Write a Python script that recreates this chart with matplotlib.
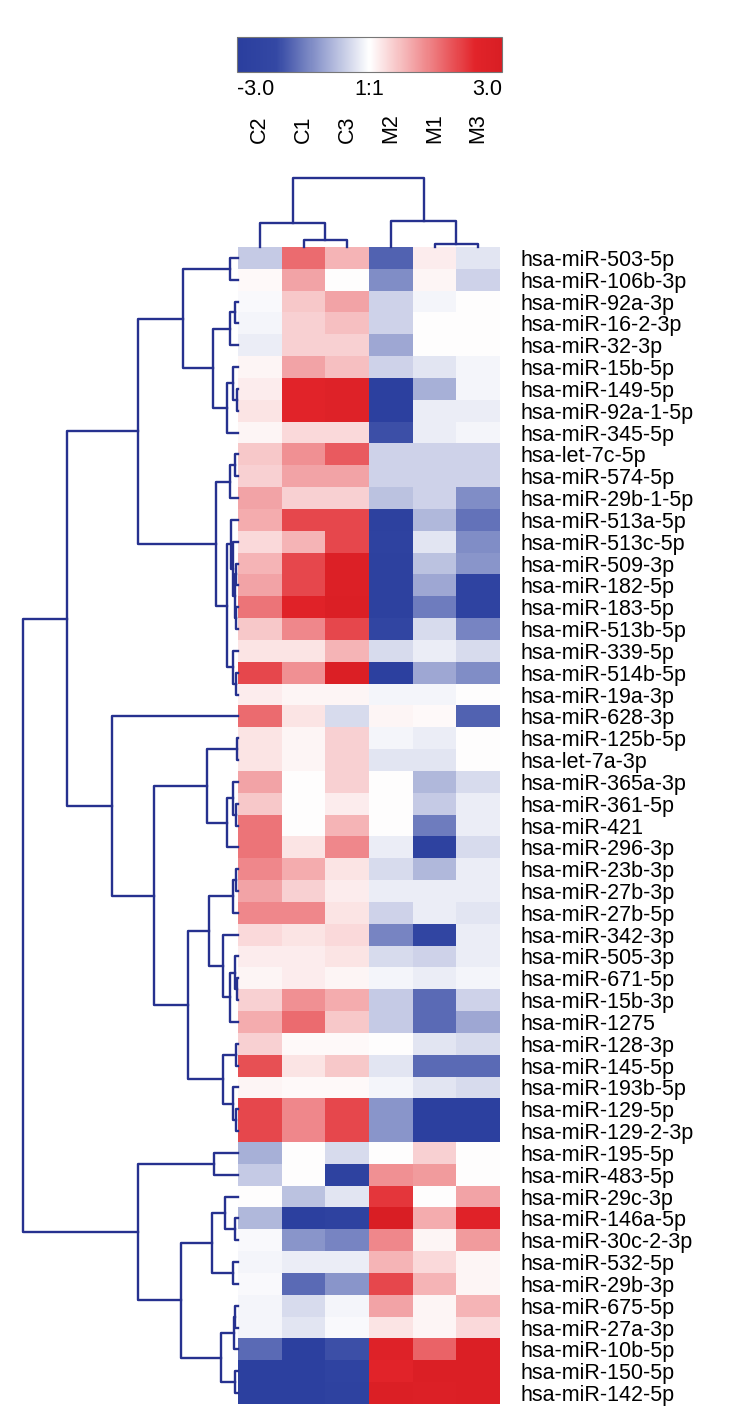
import matplotlib
matplotlib.use("Agg")
import matplotlib.pyplot as plt
import numpy as np
from matplotlib.colors import LinearSegmentedColormap

plt.rcParams['font.family'] = ['Liberation Sans', 'DejaVu Sans']

samples = ['C2', 'C1', 'C3', 'M2', 'M1', 'M3']

mirnas = [
    'hsa-miR-503-5p', 'hsa-miR-106b-3p', 'hsa-miR-92a-3p', 'hsa-miR-16-2-3p',
    'hsa-miR-32-3p', 'hsa-miR-15b-5p', 'hsa-miR-149-5p', 'hsa-miR-92a-1-5p',
    'hsa-miR-345-5p', 'hsa-let-7c-5p', 'hsa-miR-574-5p', 'hsa-miR-29b-1-5p',
    'hsa-miR-513a-5p', 'hsa-miR-513c-5p', 'hsa-miR-509-3p', 'hsa-miR-182-5p',
    'hsa-miR-183-5p', 'hsa-miR-513b-5p', 'hsa-miR-339-5p', 'hsa-miR-514b-5p',
    'hsa-miR-19a-3p', 'hsa-miR-628-3p', 'hsa-miR-125b-5p', 'hsa-let-7a-3p',
    'hsa-miR-365a-3p', 'hsa-miR-361-5p', 'hsa-miR-421', 'hsa-miR-296-3p',
    'hsa-miR-23b-3p', 'hsa-miR-27b-3p', 'hsa-miR-27b-5p', 'hsa-miR-342-3p',
    'hsa-miR-505-3p', 'hsa-miR-671-5p', 'hsa-miR-15b-3p', 'hsa-miR-1275',
    'hsa-miR-128-3p', 'hsa-miR-145-5p', 'hsa-miR-193b-5p', 'hsa-miR-129-5p',
    'hsa-miR-129-2-3p', 'hsa-miR-195-5p', 'hsa-miR-483-5p', 'hsa-miR-29c-3p',
    'hsa-miR-146a-5p', 'hsa-miR-30c-2-3p', 'hsa-miR-532-5p', 'hsa-miR-29b-3p',
    'hsa-miR-675-5p', 'hsa-miR-27a-3p', 'hsa-miR-10b-5p', 'hsa-miR-150-5p',
    'hsa-miR-142-5p',
]

# log ratio per miRNA, columns in sample order above
log_ratio = [
    [-0.6, 1.6, 0.8, -1.8, 0.2, -0.3],
    [0.05, 1.0, 0.0, -1.3, 0.1, -0.5],
    [-0.05, 0.6, 1.0, -0.5, -0.1, 0.0],
    [-0.1, 0.5, 0.7, -0.5, 0.0, 0.0],
    [-0.2, 0.5, 0.5, -1.0, 0.0, 0.0],
    [0.1, 1.0, 0.7, -0.5, -0.3, -0.1],
    [0.2, 2.4, 2.6, -2.8, -0.9, -0.1],
    [0.3, 2.4, 2.6, -2.8, -0.2, -0.2],
    [0.1, 0.4, 0.4, -2.0, -0.2, -0.1],
    [0.6, 1.2, 1.8, -0.5, -0.5, -0.5],
    [0.5, 1.0, 1.0, -0.5, -0.5, -0.5],
    [1.0, 0.5, 0.5, -0.7, -0.5, -1.3],
    [0.9, 2.0, 2.0, -2.7, -0.8, -1.6],
    [0.4, 0.8, 2.0, -2.6, -0.3, -1.3],
    [0.8, 2.0, 2.7, -2.7, -0.7, -1.2],
    [1.0, 2.0, 2.7, -2.7, -1.0, -2.5],
    [1.5, 2.5, 2.8, -2.7, -1.5, -2.5],
    [0.6, 1.3, 2.0, -2.3, -0.4, -1.4],
    [0.3, 0.3, 0.8, -0.4, -0.2, -0.4],
    [2.0, 1.2, 2.8, -2.8, -1.0, -1.3],
    [0.2, 0.1, 0.1, -0.1, -0.1, 0.0],
    [1.6, 0.3, -0.4, 0.1, 0.05, -1.8],
    [0.3, 0.1, 0.5, -0.1, -0.2, 0.0],
    [0.3, 0.1, 0.5, -0.3, -0.3, 0.0],
    [1.0, 0.0, 0.5, 0.0, -0.8, -0.4],
    [0.6, 0.0, 0.2, 0.0, -0.6, -0.2],
    [1.5, 0.0, 0.8, 0.0, -1.5, -0.2],
    [1.5, 0.3, 1.3, -0.2, -2.6, -0.4],
    [1.3, 0.9, 0.3, -0.4, -0.8, -0.2],
    [1.0, 0.5, 0.2, -0.2, -0.2, -0.2],
    [1.3, 1.3, 0.3, -0.5, -0.2, -0.3],
    [0.4, 0.3, 0.4, -1.4, -2.3, -0.2],
    [0.2, 0.2, 0.3, -0.4, -0.5, -0.2],
    [0.1, 0.2, 0.1, -0.1, -0.2, -0.1],
    [0.5, 1.2, 0.9, -0.6, -1.7, -0.5],
    [0.9, 1.6, 0.6, -0.6, -1.7, -1.0],
    [0.5, 0.05, 0.05, 0.0, -0.3, -0.4],
    [1.9, 0.3, 0.6, -0.3, -1.7, -1.7],
    [0.1, 0.05, 0.05, -0.1, -0.3, -0.4],
    [2.0, 1.3, 2.0, -1.2, -2.8, -2.8],
    [2.0, 1.3, 2.0, -1.2, -2.8, -2.8],
    [-0.9, 0.0, -0.4, 0.0, 0.5, 0.0],
    [-0.6, 0.0, -2.6, 1.2, 1.1, 0.0],
    [0.0, -0.7, -0.3, 2.2, 0.0, 1.0],
    [-0.8, -2.8, -2.6, 2.9, 0.9, 2.5],
    [-0.05, -1.2, -1.4, 1.3, 0.1, 1.1],
    [-0.1, -0.2, -0.2, 0.8, 0.4, 0.1],
    [-0.05, -1.7, -1.2, 2.0, 0.8, 0.1],
    [-0.1, -0.4, -0.1, 1.0, 0.1, 0.8],
    [-0.1, -0.3, -0.05, 0.3, 0.1, 0.4],
    [-1.7, -2.8, -2.0, 2.6, 1.7, 2.8],
    [-2.8, -2.8, -2.5, 2.4, 2.8, 2.8],
    [-2.8, -2.8, -2.6, 2.8, 2.7, 2.8],
]

# cluster trees: (merge height, left, right), leaves are row/column indices
upper = (55, (8, 0, 1),
         (25, (8, (3, 2, 3), 4), (11, (5, 5, (1.5, 6, 7)), 8)))
lower = (22, (8, (3, 9, 10), 11),
         (11, (7, 12, (5, 13, (3, (2, 14, 15), (2, 16, 17)))),
          (5, 18, (2, 19, 20))))
middle = (126, 21,
          (84, (31, (1.5, 22, 23), (11, (5, 24, (2, 25, 26)), 27)),
           (50, (29, (5, (2, 28, 29), 30),
                 (15, 31, (8, (3, 32, (1.5, 33, 34)), 35))),
            (15, (2, 36, 37), (5, 38, (2, 39, 40))))))
bottom = (100, (24, 41, 42),
          (57, (26, (13, 43, (3, 44, 45)), (5, 46, 47)),
           (17, (4, (3, 48, 49), 50), (3, 51, 52))))
row_tree = (215, (171, (100, upper, lower), middle), bottom)
col_tree = (69, (24, 0, (7, 1, 2)), (26, 3, (3, 4, 5)))

LINE = '#26318f'
cmap = LinearSegmentedColormap.from_list(
    'bwr_custom',
    [(0.0, '#2a3e9e'), (0.15, '#3448a4'), (0.5, '#ffffff'),
     (0.9, '#e2242a'), (1.0, '#d81e24')])


def draw_tree(ax, node, horizontal):
    if isinstance(node, int):
        return node + 0.5, 0.0
    h, left, right = node
    p1, h1 = draw_tree(ax, left, horizontal)
    p2, h2 = draw_tree(ax, right, horizontal)
    pos = [p1, p1, p2, p2]
    hts = [h1, h, h, h2]
    if horizontal:
        ax.plot(hts, pos, color=LINE, lw=1.7, clip_on=False)
    else:
        ax.plot(pos, hts, color=LINE, lw=1.7, clip_on=False)
    return (p1 + p2) / 2, h


W, H = 745, 1412
fig = plt.figure(figsize=(W / 100, H / 100), dpi=100)

data = np.array(log_ratio)
n_rows, n_cols = data.shape

ax_hm = fig.add_axes([238 / W, 1 - 1404 / H, 262 / W, 1157 / H])
im = ax_hm.imshow(data, cmap=cmap, vmin=-3, vmax=3, aspect='auto',
                  interpolation='nearest', extent=(0, n_cols, n_rows, 0))
ax_hm.set_xticks([])
ax_hm.yaxis.tick_right()
ax_hm.set_yticks(np.arange(n_rows) + 0.5)
ax_hm.set_yticklabels(mirnas, fontsize=15.5)
ax_hm.tick_params(axis='y', length=0, pad=15)
for s in ax_hm.spines.values():
    s.set_visible(False)

ax_rd = fig.add_axes([23 / W, 1 - 1404 / H, 215 / W, 1157 / H])
draw_tree(ax_rd, row_tree, True)
ax_rd.set_xlim(215, 0)
ax_rd.set_ylim(n_rows, 0)
ax_rd.axis('off')

ax_cd = fig.add_axes([238 / W, 1 - 247 / H, 262 / W, 69 / H])
draw_tree(ax_cd, col_tree, False)
ax_cd.set_xlim(0, n_cols)
ax_cd.set_ylim(0, 69)
ax_cd.set_xticks(np.arange(n_cols) + 0.5)
ax_cd.set_xticklabels(samples, rotation=90, fontsize=15.5)
ax_cd.tick_params(axis='x', top=True, labeltop=True, bottom=False,
                  labelbottom=False, length=0, pad=25)
ax_cd.set_yticks([])
for s in ax_cd.spines.values():
    s.set_visible(False)

cax = fig.add_axes([237 / W, 1 - 72 / H, 265 / W, 35 / H])
cb = fig.colorbar(im, cax=cax, orientation='horizontal', ticks=[-3, 0, 3])
cb.set_ticklabels(['-3.0', '1:1', '3.0'])
cax.tick_params(length=0, pad=5, labelsize=15.5)
labels = cax.get_xticklabels()
labels[0].set_ha('left')
labels[2].set_ha('right')
cb.outline.set_edgecolor('#777777')
cb.outline.set_linewidth(0.8)

fig.savefig('out.png', dpi=100)
